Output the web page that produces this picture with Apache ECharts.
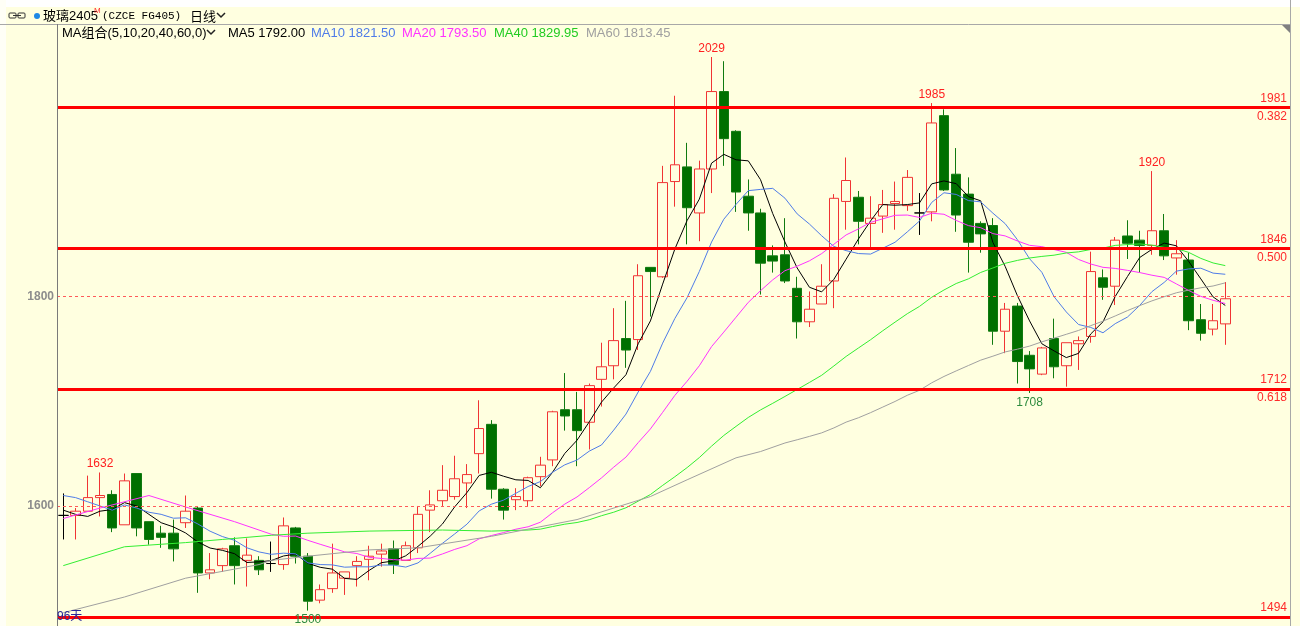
<!DOCTYPE html>
<html>
<head>
<meta charset="utf-8">
<title>玻璃2405 日线</title>
<script src="https://cdn.jsdelivr.net/npm/echarts@6/dist/echarts.min.js"></script>
<style>
  html, body { margin: 0; padding: 0; background: #fff; }
  #chart { width: 1300px; height: 626px; }
</style>
</head>
<body>
<div id="chart"></div>
<script>
// K线数据
const opens = [1591,1591,1595,1608,1611,1582,1631,1585,1574,1574,
  1584,1598,1536,1543,1562,1548,1548,1545,1544,1579,
  1552,1510,1521,1531,1543,1549,1554,1559,1548,1560,
  1596,1605,1609,1622,1650,1678,1616,1606,1605,1628,
  1644,1692,1692,1680,1721,1734,1760,1759,1828,1819,
  1910,1924,1880,1922,1996,1958,1896,1880,1839,1840,
  1808,1776,1793,1815,1891,1895,1870,1877,1889,1887,
  1880,1881,1973,1917,1898,1870,1868,1767,1791,1744,
  1726,1760,1734,1755,1762,1818,1810,1858,1854,1849,
  1863,1837,1835,1778,1769,1774]
const closes = [1591,1595,1608,1610,1579,1624,1579,1568,1570,1559,
  1595,1536,1539,1559,1543,1553,1539,1545,1581,1552,
  1509,1520,1536,1537,1547,1552,1557,1544,1562,1592,
  1601,1615,1626,1630,1674,1616,1596,1609,1627,1639,
  1690,1686,1672,1715,1733,1758,1749,1820,1824,1909,
  1926,1885,1922,1996,1951,1900,1880,1832,1834,1815,
  1776,1788,1810,1894,1911,1872,1875,1888,1891,1914,
  1880,1966,1902,1878,1852,1860,1767,1788,1738,1731,
  1751,1733,1756,1758,1824,1809,1854,1851,1849,1863,
  1839,1841,1777,1765,1777,1798]
const lows = [1568,1568,1595,1590,1575,1582,1571,1563,1560,1547,
  1579,1517,1530,1537,1525,1523,1534,1537,1539,1545,
  1500,1507,1517,1515,1523,1529,1542,1535,1548,1555,
  1575,1600,1606,1598,1631,1607,1587,1596,1600,1619,
  1638,1672,1638,1654,1695,1721,1732,1749,1781,1818,
  1886,1850,1853,1899,1925,1881,1863,1802,1823,1813,
  1760,1771,1793,1789,1864,1850,1847,1861,1864,1882,
  1859,1872,1901,1862,1823,1842,1754,1746,1717,1708,
  1725,1722,1714,1730,1756,1797,1792,1836,1823,1840,
  1835,1821,1768,1758,1763,1754]
const highs = [1612,1598,1629,1632,1615,1631,1631,1585,1581,1587,
  1610,1599,1555,1560,1570,1569,1552,1566,1589,1580,
  1555,1525,1564,1537,1552,1562,1564,1567,1566,1600,
  1615,1639,1648,1640,1701,1682,1617,1617,1628,1647,
  1691,1727,1709,1717,1756,1789,1796,1831,1828,1925,
  1992,1947,1930,2029,2025,1959,1912,1884,1849,1875,
  1819,1805,1831,1898,1933,1901,1896,1902,1910,1921,
  1899,1985,1979,1942,1914,1872,1875,1794,1794,1748,
  1752,1779,1756,1762,1843,1826,1857,1873,1863,1920,
  1879,1854,1842,1793,1793,1814]

// 均线在可见区间之前的部分（窗口外数据不可见，直接从图上读）[序号, 值]
const ma5Head = [[0,1596],[1,1592],[2,1590],[3,1595]]
const ma10Head = [[0,1610],[1,1608],[2,1604],[3,1600],[4,1596],[5,1601],[6,1598],[7,1594],[8,1592]]
const ma20Head = [[0,1588],[3,1598],[7,1610],[10,1599],[14,1585],[17,1573],[18,1571]]
const ma40Head = [[0,1543],[5,1561],[10,1565],[13,1568],[17,1572],[20,1574],[25,1576],[31,1577],[35,1576],[38,1577]]
const ma60Head = [[0,1498],[5,1513],[10,1531],[16,1544],[17,1548],[20,1552],[25,1558],[29,1560],[35,1571],[42,1587],[48,1609],[51,1625],[55,1646],[57,1652]]

// 图例上显示的均线值
const maNames = ['MA5', 'MA10', 'MA20', 'MA40', 'MA60']
const maPeriods = [5, 10, 20, 40, 60]
const maLast = ['1792.00', '1821.50', '1793.50', '1829.95', '1813.45']

// 水平线：黄金分割位 和 参考虚线
const levels = [1981, 1846, 1712, 1494]
const levelRatios = ['0.382', '0.500', '0.618', '']
const refLines = [1800, 1600]

// 标注的高低点（K线序号）
const peakIdx = [3, 53, 71, 89]
const troughIdx = [20, 79]

const Y_MIN = 1485.3
const Y_MAX = 2059.6
const PAD = 5  // 右侧留白的空位
const BG = '#FFFFE0'
const UP = '#F03434'
const DOWN = '#007000'
const maColors = ['#000000', '#4F7CE8', '#FF33FF', '#33EE33', '#A0A0A0']
const FONT = '"Liberation Sans", "Noto Sans CJK SC", sans-serif'

const cats = closes.map((_, i) => 'd' + (i + 1))
for (let k = 0; k < PAD; k++) cats.push('p' + k)

function movingAverage (period, head) {
  let out = closes.map(() => null)
  head.forEach(([i, v]) => { out[i] = v })
  for (let i = period - 1; i < closes.length; i++) {
    let s = 0
    for (let k = i - period + 1; k <= i; k++) s += closes[k]
    out[i] = +(s / period).toFixed(2)
  }
  return out
}
const heads = [ma5Head, ma10Head, ma20Head, ma40Head, ma60Head]

let kData = opens.map((o, i) => [o, closes[i], lows[i], highs[i]])

let maSeries = maPeriods.map((p, k) => ({
  name: maNames[k],
  type: 'line',
  xAxisIndex: 0,
  yAxisIndex: 0,
  data: movingAverage(p, heads[k]),
  connectNulls: true,
  symbol: 'none',
  silent: true,
  lineStyle: { color: maColors[k], width: 1 },
  z: 3
}))

// 黄金分割线，数值在线上，比例在线下
let levelMarks = []
levels.forEach((v, k) => {
  levelMarks.push({
    yAxis: v,
    lineStyle: { color: '#FF0000', width: 3, type: 'solid' },
    label: { show: true, position: 'insideEndTop', formatter: String(v), color: '#FF2A2A', distance: 3 }
  })
  if (levelRatios[k]) {
    levelMarks.push({
      yAxis: v,
      lineStyle: { color: '#FF0000', width: 3, type: 'solid' },
      label: { show: true, position: 'insideEndBottom', formatter: levelRatios[k], color: '#FF2A2A', distance: 3 }
    })
  }
})
refLines.forEach(v => {
  levelMarks.push({
    yAxis: v,
    lineStyle: { color: '#FF5A5A', width: 1, type: [3, 3] },
    label: { show: true, position: 'start', formatter: String(v), color: '#8C8C8C', fontWeight: 'bold', distance: 3 }
  })
})

let extremeMarks = peakIdx.map(i => ({
  coord: [cats[i], highs[i]],
  value: highs[i],
  label: { position: 'top', distance: 2, color: '#FF2020' }
})).concat(troughIdx.map(i => ({
  coord: [cats[i], lows[i]],
  value: lows[i],
  label: { position: 'bottom', distance: 3, color: '#2E8B3E' }
})))

// 顶部标题栏和均线图例
let graphics = [
  { type: 'rect', shape: { x: 0, y: 0, width: 1300, height: 7 }, style: { fill: '#FFFFFF' }, z: 10 },
  { type: 'rect', shape: { x: 0, y: 0, width: 6, height: 626 }, style: { fill: '#FFFFF6' }, z: 10 },
  { type: 'line', shape: { x1: 0, y1: 24.5, x2: 1291, y2: 24.5 }, style: { stroke: '#A8A8A8', lineWidth: 1 }, z: 10 },
  { type: 'line', shape: { x1: 57.5, y1: 24, x2: 57.5, y2: 626 }, style: { stroke: '#7A7A7A', lineWidth: 1 }, z: 10 },
  { type: 'line', shape: { x1: 1290.5, y1: 0, x2: 1290.5, y2: 626 }, style: { stroke: '#A8A8A8', lineWidth: 1 }, z: 10 },
  { type: 'polygon', shape: { points: [[1282, 25], [1290, 25], [1290, 33]] }, style: { fill: '#808080' }, z: 10 },
  { type: 'rect', shape: { x: 9, y: 13, width: 7, height: 5, r: 1 }, style: { fill: 'none', stroke: '#333', lineWidth: 1 }, z: 10 },
  { type: 'rect', shape: { x: 18, y: 13, width: 7, height: 5, r: 1 }, style: { fill: 'none', stroke: '#333', lineWidth: 1 }, z: 10 },
  { type: 'line', shape: { x1: 13, y1: 15.5, x2: 21, y2: 15.5 }, style: { stroke: '#333', lineWidth: 1 }, z: 10 },
  { type: 'circle', shape: { cx: 37, cy: 16, r: 3 }, style: { fill: '#1E88E5' }, z: 10 },
  { type: 'text', style: { text: '玻璃2405', x: 43, y: 16, fill: '#000', font: '13px ' + FONT, textVerticalAlign: 'middle' }, z: 10 },
  { type: 'text', style: { text: 'M', x: 94, y: 11, fill: '#FF3030', font: '8px ' + FONT, textVerticalAlign: 'middle' }, z: 10 },
  { type: 'text', style: { text: '(CZCE FG405)', x: 102, y: 16, fill: '#000', font: '11px "Liberation Mono", monospace', textVerticalAlign: 'middle' }, z: 10 },
  { type: 'text', style: { text: '日线', x: 190, y: 16, fill: '#000', font: '13px "Noto Sans CJK SC"', textVerticalAlign: 'middle' }, z: 10 },
  { type: 'polyline', shape: { points: [[217, 13], [221, 17], [225, 13]] }, style: { stroke: '#222', lineWidth: 1.5, fill: 'none' }, z: 10 },
  { type: 'text', style: { text: 'MA组合(5,10,20,40,60,0)', x: 62, y: 33, fill: '#000', font: '13px ' + FONT, textVerticalAlign: 'middle' }, z: 10 },
  { type: 'polyline', shape: { points: [[207, 30], [211, 34], [215, 30]] }, style: { stroke: '#222', lineWidth: 1.5, fill: 'none' }, z: 10 },
  { type: 'text', style: { text: closes.length + '天', x: 57, y: 617, fill: '#2A2A9A', font: '12px ' + FONT, textVerticalAlign: 'middle' }, z: 10 }
]
const legendX = [228, 311, 402, 494, 586]
maNames.forEach((n, k) => {
  graphics.push({
    type: 'text',
    style: { text: n + ' ' + maLast[k], x: legendX[k], y: 33, fill: maColors[k] === '#33EE33' ? '#22CC22' : maColors[k], font: '13px ' + FONT, textVerticalAlign: 'middle' },
    z: 10
  })
})

let option = {
  backgroundColor: BG,
  animation: false,
  textStyle: { fontFamily: FONT },
  grid: [
    { left: 57.18, top: 25, width: 1235.4, height: 601 },
    { left: 57, top: 25, right: 10, height: 601 }
  ],
  xAxis: [
    { type: 'category', gridIndex: 0, data: cats, boundaryGap: true, show: false },
    { type: 'value', gridIndex: 1, min: 0, max: 1, show: false }
  ],
  yAxis: [
    { type: 'value', gridIndex: 0, min: Y_MIN, max: Y_MAX, show: false, splitLine: { show: false } },
    { type: 'value', gridIndex: 1, min: Y_MIN, max: Y_MAX, show: false, splitLine: { show: false } }
  ],
  series: [
    {
      name: '玻璃2405',
      type: 'candlestick',
      xAxisIndex: 0,
      yAxisIndex: 0,
      data: kData,
      barWidth: 10,
      silent: true,
      itemStyle: {
        color: BG,
        color0: DOWN,
        borderColor: UP,
        borderColor0: '#107A10',
        borderColorDoji: '#000000',
        borderWidth: 1
      },
      markPoint: {
        symbol: 'circle',
        symbolSize: 1,
        itemStyle: { color: 'rgba(0,0,0,0)' },
        silent: true,
        label: { show: true, formatter: '{c}', fontSize: 12, fontFamily: FONT },
        data: extremeMarks
      },
      z: 2
    }
  ].concat(maSeries).concat([
    {
      name: 'levels',
      type: 'line',
      xAxisIndex: 1,
      yAxisIndex: 1,
      data: [],
      silent: true,
      markLine: {
        symbol: ['none', 'none'],
        silent: true,
        label: { fontSize: 12, fontFamily: FONT },
        data: levelMarks
      },
      z: 5
    }
  ]),
  graphic: graphics
}

echarts.init(document.getElementById('chart')).setOption(option)
</script>
</body>
</html>
